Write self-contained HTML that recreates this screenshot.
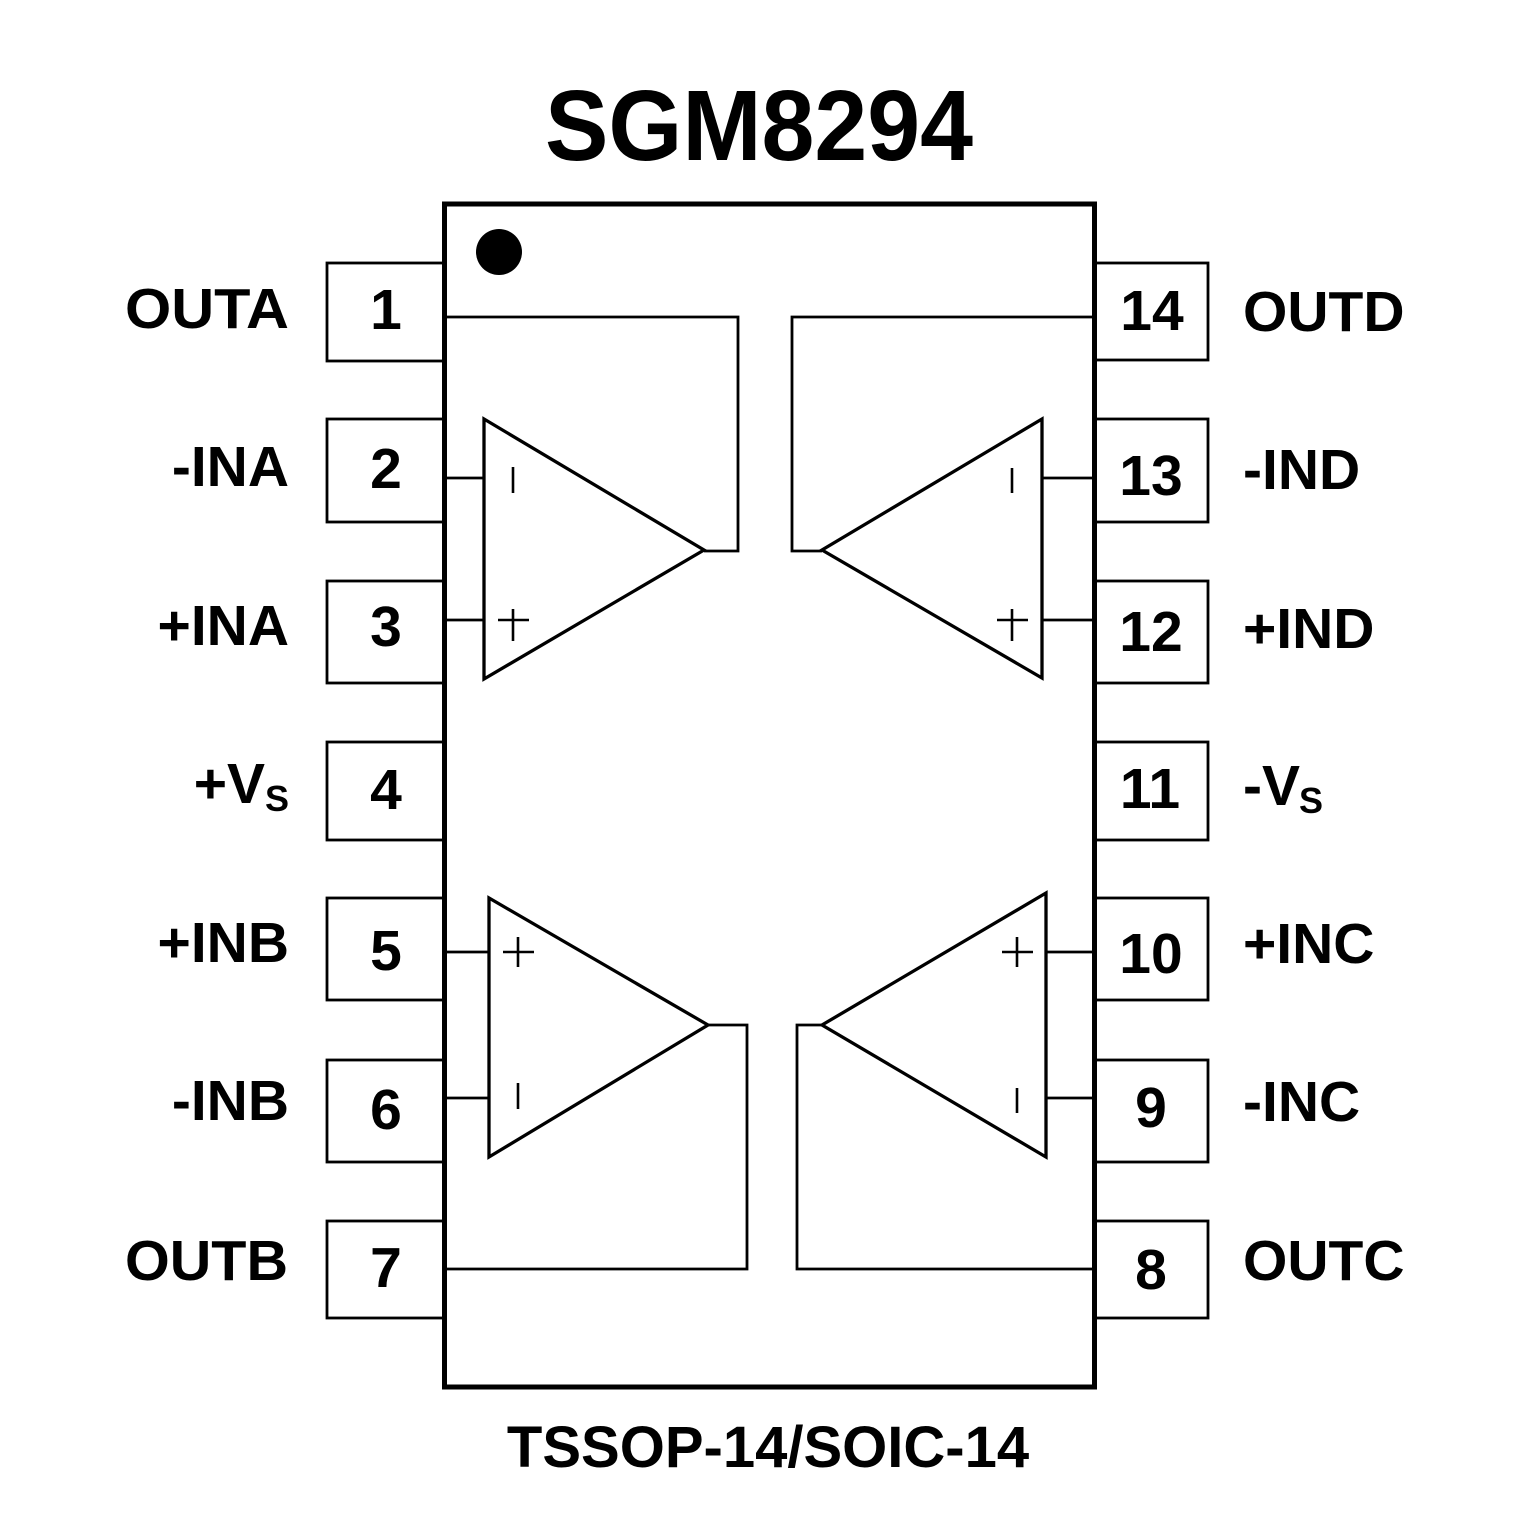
<!DOCTYPE html>
<html>
<head>
<meta charset="utf-8">
<style>
html,body{margin:0;padding:0;background:#fff;}
svg{display:block;}
text{font-family:"Liberation Sans",Arial,sans-serif;font-weight:bold;fill:#000;}
</style>
</head>
<body>
<svg width="1535" height="1535" viewBox="0 0 1535 1535" xmlns="http://www.w3.org/2000/svg">
<rect x="0" y="0" width="1535" height="1535" fill="#fff"/>

<!-- Title -->
<text x="545" y="160" font-size="100" textLength="428" lengthAdjust="spacingAndGlyphs">SGM8294</text>

<!-- Pin boxes -->
<g fill="none" stroke="#000" stroke-width="2.8">
  <rect x="327" y="263" width="117" height="98"/>
  <rect x="327" y="419" width="117" height="103"/>
  <rect x="327" y="581" width="117" height="102"/>
  <rect x="327" y="742" width="117" height="98"/>
  <rect x="327" y="898" width="117" height="102"/>
  <rect x="327" y="1060" width="117" height="102"/>
  <rect x="327" y="1221" width="117" height="97"/>
  <rect x="1094" y="263" width="114" height="97"/>
  <rect x="1094" y="419" width="114" height="103"/>
  <rect x="1094" y="581" width="114" height="102"/>
  <rect x="1094" y="742" width="114" height="98"/>
  <rect x="1094" y="898" width="114" height="102"/>
  <rect x="1094" y="1060" width="114" height="102"/>
  <rect x="1094" y="1221" width="114" height="97"/>
</g>

<!-- Chip body -->
<rect x="444.5" y="204" width="650" height="1183" fill="#fff" stroke="#000" stroke-width="5"/>

<!-- Pin 1 dot -->
<circle cx="499" cy="252" r="23" fill="#000"/>

<!-- Wires -->
<g fill="none" stroke="#000" stroke-width="2.8" stroke-linejoin="miter">
  <polyline points="447,317 738,317 738,551 704,551"/>
  <line x1="447" y1="478" x2="484" y2="478"/>
  <line x1="447" y1="620" x2="484" y2="620"/>
  <polyline points="1092,317 792,317 792,551 822,551"/>
  <line x1="1042" y1="478" x2="1092" y2="478"/>
  <line x1="1042" y1="620" x2="1092" y2="620"/>
  <polyline points="708,1025 747,1025 747,1269 447,1269"/>
  <line x1="447" y1="952" x2="489" y2="952"/>
  <line x1="447" y1="1098" x2="489" y2="1098"/>
  <polyline points="822,1025 797,1025 797,1269 1092,1269"/>
  <line x1="1046" y1="952" x2="1092" y2="952"/>
  <line x1="1046" y1="1098" x2="1092" y2="1098"/>
</g>

<!-- Triangles -->
<g fill="none" stroke="#000" stroke-width="3.3" stroke-linejoin="miter">
  <polygon points="484,419 484,679 704,550"/>
  <polygon points="1042,419 1042,678 822,550"/>
  <polygon points="489,898 489,1157 708,1025"/>
  <polygon points="1046,893 1046,1157 822,1025"/>
</g>

<!-- +/- symbols -->
<g stroke="#000" stroke-width="2.6" fill="none">
  <line x1="513" y1="467" x2="513" y2="493"/>
  <line x1="498" y1="620" x2="529" y2="620"/>
  <line x1="513" y1="609" x2="513" y2="641"/>
  <line x1="1012" y1="468" x2="1012" y2="493"/>
  <line x1="997" y1="620" x2="1028" y2="620"/>
  <line x1="1012" y1="609" x2="1012" y2="641"/>
  <line x1="503" y1="952" x2="534" y2="952"/>
  <line x1="518" y1="937" x2="518" y2="967"/>
  <line x1="518" y1="1083" x2="518" y2="1109"/>
  <line x1="1002" y1="952" x2="1033" y2="952"/>
  <line x1="1017" y1="937" x2="1017" y2="967"/>
  <line x1="1017" y1="1088" x2="1017" y2="1113"/>
</g>

<!-- Pin numbers -->
<g font-size="57" text-anchor="middle">
  <text x="386" y="329">1</text>
  <text x="386" y="488">2</text>
  <text x="386" y="646">3</text>
  <text x="386" y="809">4</text>
  <text x="386" y="970">5</text>
  <text x="386" y="1129">6</text>
  <text x="386" y="1287">7</text>
  <text x="1152" y="330">14</text>
  <text x="1151" y="495">13</text>
  <text x="1151" y="651">12</text>
  <text x="1150" y="808">11</text>
  <text x="1151" y="973">10</text>
  <text x="1151" y="1127">9</text>
  <text x="1151" y="1289">8</text>
</g>

<!-- Left labels -->
<text x="125" y="328" font-size="57" textLength="164" lengthAdjust="spacingAndGlyphs">OUTA</text>
<g font-size="57" text-anchor="end">
  <text x="289" y="486">-INA</text>
  <text x="289" y="645">+INA</text>
  <text x="265" y="803">+V</text>
  <text x="289" y="962">+INB</text>
  <text x="289" y="1120">-INB</text>
</g>
<text x="125" y="1280" font-size="57" textLength="163" lengthAdjust="spacingAndGlyphs">OUTB</text>
<text x="265" y="811" font-size="36">S</text>

<!-- Right labels -->
<g font-size="57" text-anchor="start">
  <text x="1243" y="331">OUTD</text>
  <text x="1243" y="489">-IND</text>
  <text x="1243" y="648">+IND</text>
  <text x="1243" y="805">-V</text>
  <text x="1243" y="963">+INC</text>
  <text x="1243" y="1121">-INC</text>
  <text x="1243" y="1280">OUTC</text>
</g>
<text x="1299" y="813" font-size="36">S</text>

<!-- Package label -->
<text x="768" y="1467" font-size="58" text-anchor="middle">TSSOP-14/SOIC-14</text>
</svg>
</body>
</html>
